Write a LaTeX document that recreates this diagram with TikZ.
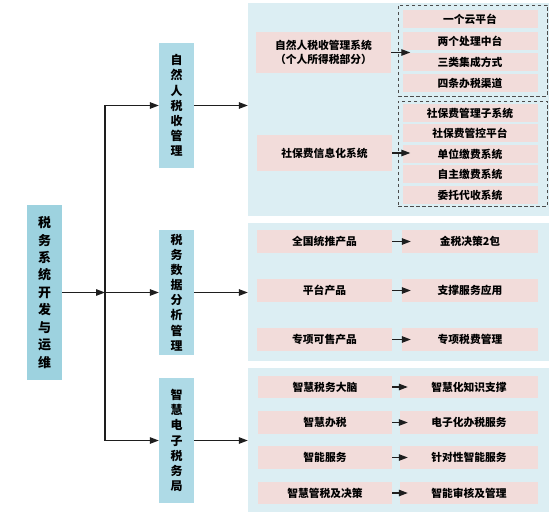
\documentclass[tikz,border=0pt]{standalone}
\usepackage{fontspec}
\setmainfont{Noto Sans CJK SC}
\usetikzlibrary{arrows.meta}
\definecolor{mainblue}{HTML}{9DD2DF}
\definecolor{lvlblue}{HTML}{AEDAE6}
\definecolor{panelblue}{HTML}{DCEEF3}
\definecolor{itempink}{HTML}{F2DCDA}
\definecolor{lineclr}{HTML}{1E1E1E}
\tikzset{
  vbox/.style={fill=lvlblue, inner sep=0pt, minimum width=35bp, align=center,
    font=\fontsize{12}{15.2}\selectfont\bfseries},
  mainbox/.style={fill=mainblue, inner sep=0pt, minimum width=35bp, align=center,
    font=\fontsize{13}{17.5}\selectfont\bfseries},
  panelbox/.style={fill=panelblue, inner sep=0pt},
  dbox/.style={draw=black!70, dashed, dash pattern=on 3.5bp off 2.5bp, line width=0.9bp, inner sep=0pt},
  item/.style={fill=itempink, inner sep=0pt, align=center,
    font=\fontsize{10.8}{14}\selectfont\bfseries},
  arr/.style={draw=lineclr, line width=1.2bp, -{Triangle[length=9bp,width=6.5bp]}},
  plainline/.style={draw=lineclr, line width=1.2bp},
}
\begin{document}
\begin{tikzpicture}[x=1bp,y=-1bp]
\fill[white] (0,0) rectangle (557,521);
\useasboundingbox (0,0) rectangle (557,521);

% panels
\node[panelbox, minimum width=301bp, minimum height=213bp] (P1) at (398.5,109.5) {};
\node[panelbox, minimum width=301bp, minimum height=138bp] (P2) at (398.5,292) {};
\node[panelbox, minimum width=301bp, minimum height=144bp] (P3) at (398.5,440) {};

% main and level-2 nodes
\node[mainbox, minimum height=175bp] (M) at (44.5,292.5) {税\\务\\系\\统\\开\\发\\与\\运\\维};
\node[vbox, minimum height=125bp] (L1) at (176.5,105.5) {自\\然\\人\\税\\收\\管\\理};
\node[vbox, minimum height=124bp] (L2) at (176.5,292.5) {税\\务\\数\\据\\分\\析\\管\\理};
\node[vbox, minimum height=125bp] (L3) at (176.5,440.5) {智\\慧\\电\\子\\税\\务\\局};

\coordinate (tr) at (105,0);

% panel 1 content
\node[item, minimum width=135bp, minimum height=41bp] (A1) at (323.5,52.5) {自然人税收管理系统\\（个人所得税部分）};
\node[item, minimum width=135bp, minimum height=36bp] (A2) at (324.5,153) {社保费信息化系统};
\node[dbox, minimum width=149bp, minimum height=91bp] (D1) at (472.5,50.5) {};
\node[dbox, minimum width=149bp, minimum height=105bp] (D2) at (472.5,153.5) {};
\node[item, minimum width=135bp, minimum height=18bp] (B1) at (470,19) {一个云平台};
\node[item, minimum width=135bp, minimum height=18bp] (B2) at (470,41) {两个处理中台};
\node[item, minimum width=135bp, minimum height=18bp] (B3) at (470,62) {三类集成方式};
\node[item, minimum width=135bp, minimum height=18bp] (B4) at (470,83) {四条办税渠道};
\node[item, minimum width=135bp, minimum height=18bp] (C1) at (470,113) {社保费管理子系统};
\node[item, minimum width=135bp, minimum height=18bp] (C2) at (470,133.5) {社保费管控平台};
\node[item, minimum width=135bp, minimum height=18bp] (C3) at (470,154) {单位缴费系统};
\node[item, minimum width=135bp, minimum height=18bp] (C4) at (470,174.5) {自主缴费系统};
\node[item, minimum width=135bp, minimum height=18bp] (C5) at (470,195) {委托代收系统};

% panel 2 content
\node[item, minimum width=135bp, minimum height=23bp] (E1) at (324.5,241.5) {全国统推产品};
\node[item, minimum width=135bp, minimum height=23bp] (E2) at (324.5,290.5) {平台产品};
\node[item, minimum width=135bp, minimum height=23bp] (E3) at (324.5,339.5) {专项可售产品};
\node[item, minimum width=136bp, minimum height=23bp] (F1) at (470,241.5) {金税决策2包};
\node[item, minimum width=136bp, minimum height=23bp] (F2) at (470,290.5) {支撑服务应用};
\node[item, minimum width=136bp, minimum height=23bp] (F3) at (470,339.5) {专项税费管理};

% panel 3 content
\node[item, minimum width=134bp, minimum height=22bp] (G1) at (325,387) {智慧税务大脑};
\node[item, minimum width=134bp, minimum height=23bp] (G2) at (325,422.5) {智慧办税};
\node[item, minimum width=134bp, minimum height=23bp] (G3) at (325,457.5) {智能服务};
\node[item, minimum width=134bp, minimum height=22bp] (G4) at (325,493) {智慧管税及决策};
\node[item, minimum width=138bp, minimum height=22bp] (H1) at (469,387) {智慧化知识支撑};
\node[item, minimum width=138bp, minimum height=23bp] (H2) at (469,422.5) {电子化办税服务};
\node[item, minimum width=138bp, minimum height=23bp] (H3) at (469,457.5) {针对性智能服务};
\node[item, minimum width=138bp, minimum height=22bp] (H4) at (469,493) {智能审核及管理};

% connectors: main tree
\draw[arr] (M.east) -- (M.east -| tr);
\draw[plainline] (L1.west -| tr) -- (L3.west -| tr);
\draw[arr] (L1.west -| tr) -- (L1.west);
\draw[arr] (L2.west -| tr) -- (L2.west);
\draw[arr] (L3.west -| tr) -- (L3.west);
\draw[arr] (L1.east) -- (L1.east -| P1.west);
\draw[arr] (L2.east) -- (L2.east -| P2.west);
\draw[arr] (L3.east) -- (L3.east -| P3.west);

% connectors inside panels
\draw[arr, shorten >=-8bp] (A1.east) -- (A1.east -| B1.west);
\draw[arr, shorten >=-8bp] (A2.east) -- (A2.east -| C1.west);
\draw[arr, shorten >=-9bp] (E1) -- (F1);
\draw[arr, shorten >=-9bp] (E2) -- (F2);
\draw[arr, shorten >=-9bp] (E3) -- (F3);
\draw[arr, shorten >=-8bp] (G1) -- (H1);
\draw[arr, shorten >=-8bp] (G2) -- (H2);
\draw[arr, shorten >=-8bp] (G3) -- (H3);
\draw[arr, shorten >=-8bp] (G4) -- (H4);
\end{tikzpicture}
\end{document}
